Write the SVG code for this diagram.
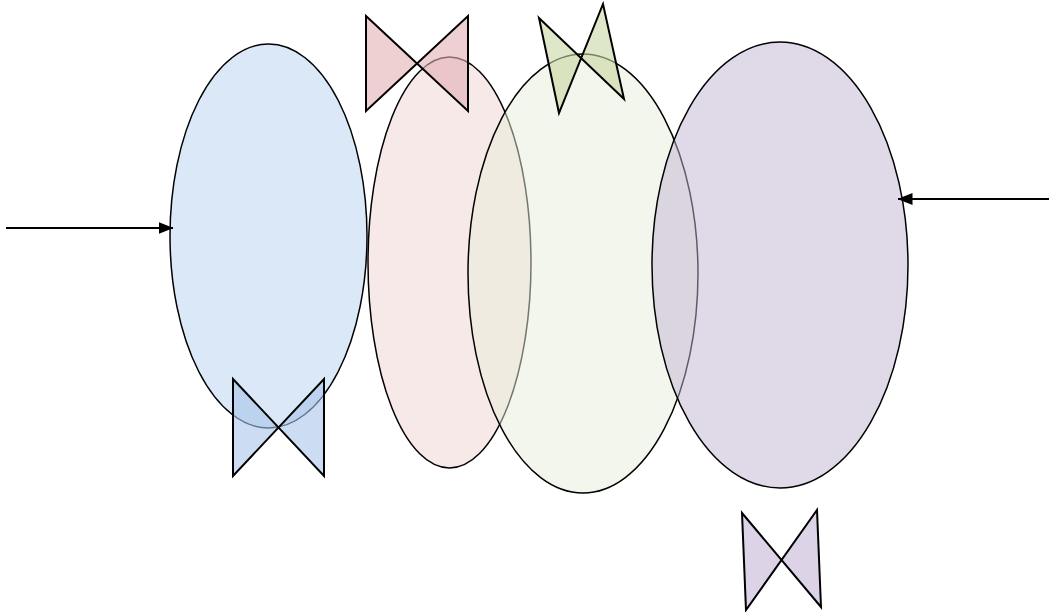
<svg xmlns="http://www.w3.org/2000/svg" width="1049" height="612" viewBox="0 0 1049 612">
  <defs>
    <marker id="ah" markerWidth="15" markerHeight="12" refX="14.5" refY="6" orient="auto" markerUnits="userSpaceOnUse" viewBox="0 0 15 12">
      <path d="M0,0 L15,6 L0,12 Z" fill="#000"/>
    </marker>
  </defs>
  <style>
    .ell { stroke: #000; stroke-width: 1.5; }
    .bow { stroke: #000; stroke-width: 2; fill-opacity: 0.6; stroke-linejoin: miter; }
    .conn { stroke: #000; stroke-width: 2; fill: none; }
  </style>
  <rect width="1049" height="612" fill="#fff"/>
  <g id="ellipse-blue"><ellipse class="ell" cx="268.5" cy="236" rx="98.5" ry="192" fill="#dae8f8"/></g>
  <g id="ellipse-pink"><ellipse class="ell" cx="449.5" cy="262.5" rx="81.5" ry="205.5" fill="#f1d3d3" fill-opacity="0.5"/></g>
  <g id="ellipse-green"><ellipse class="ell" cx="583" cy="273.5" rx="115" ry="219.5" fill="#e5edd9" fill-opacity="0.5"/></g>
  <g id="ellipse-purple"><ellipse class="ell" cx="780" cy="265" rx="128" ry="223" fill="#c1b3d1" fill-opacity="0.5"/></g>
  <g id="bowtie-pink"><path class="bow" d="M366,16 L468,111 L468,16 L366,111 Z" fill="#e3afb4"/></g>
  <g id="bowtie-green"><path class="bow" d="M539,18 L624,99 L603,4 L559,113 Z" fill="#c8d7a3"/></g>
  <g id="bowtie-blue"><path class="bow" d="M233,379 L324,476 L324,379 L233,476 Z" fill="#a9c4eb"/></g>
  <g id="bowtie-purple"><path class="bow" d="M742,513 L821,607 L817,510 L746,610 Z" fill="#c5b6d5"/></g>
  <g id="connectors">
    <line class="conn" x1="6" y1="228" x2="173" y2="228" marker-end="url(#ah)"/>
    <line class="conn" x1="1049" y1="199" x2="898" y2="199" marker-end="url(#ah)"/>
  </g>
</svg>
